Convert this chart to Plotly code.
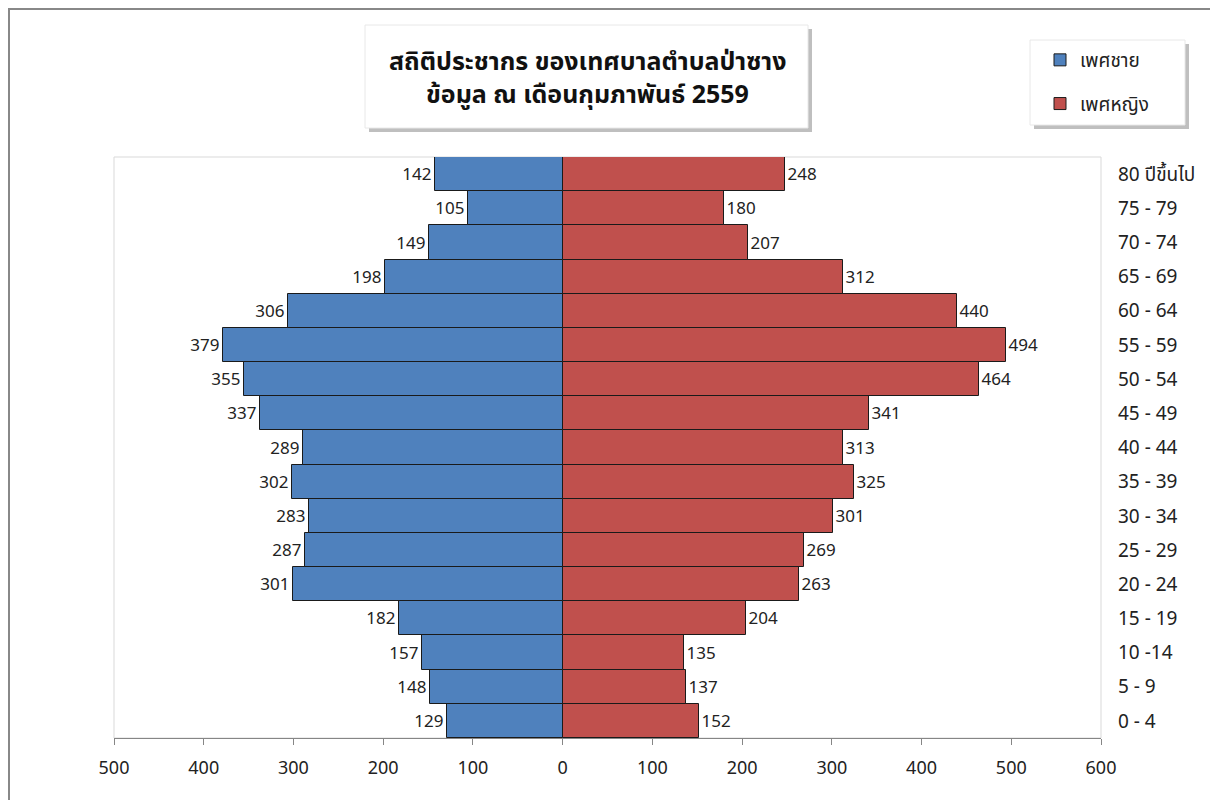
import plotly.graph_objects as go

age_groups = ["0 - 4", "5 - 9", "10 -14", "15 - 19", "20 - 24", "25 - 29", "30 - 34",
              "35 - 39", "40 - 44", "45 - 49", "50 - 54", "55 - 59", "60 - 64",
              "65 - 69", "70 - 74", "75 - 79", "80 ปีขึ้นไป"]
male = [129, 148, 157, 182, 301, 287, 283, 302, 289, 337, 355, 379, 306, 198, 149, 105, 142]
female = [152, 137, 135, 204, 263, 269, 301, 325, 313, 341, 464, 494, 440, 312, 207, 180, 248]
x_ticks = [-500, -400, -300, -200, -100, 0, 100, 200, 300, 400, 500, 600]

title_lines = ["สถิติประชากร ของเทศบาลตำบลป่าซาง", "ข้อมูล ณ เดือนกุมภาพันธ์ 2559"]
male_name = "เพศชาย"
female_name = "เพศหญิง"

FONT = "Noto Sans, Noto Sans Thai, Lato, sans-serif"
BLUE = "#4F81BD"
RED = "#C0504D"

OFF = 8  # page body margin: figure starts at screen (8, 8)
W, H = 1210, 792
L, T = 114 - OFF, 157 - OFF
R = W - (1101 - OFF)
B = H - (738 - OFF)
pw, ph = W - L - R, H - T - B


def px(xs):
    return (xs - OFF - L) / pw


def py(ys):
    return (H - B - (ys - OFF)) / ph


fig = go.Figure()
fig.add_trace(go.Bar(
    y=age_groups, x=[-v for v in male], orientation="h", name=male_name,
    legendgroup="m",
    marker=dict(color=BLUE, line=dict(color="#1a1a1a", width=1)),
    text=[str(v) for v in male], textposition="outside",
    textfont=dict(family=FONT, size=17, color="#222"), cliponaxis=False,
    hoverinfo="skip",
))
fig.add_trace(go.Bar(
    y=age_groups, x=female, orientation="h", name=female_name,
    legendgroup="f",
    marker=dict(color=RED, line=dict(color="#1a1a1a", width=1)),
    text=[str(v) for v in female], textposition="outside",
    textfont=dict(family=FONT, size=17, color="#222"), cliponaxis=False,
    hoverinfo="skip",
))

shapes = []
# outer chart border (left/top edges of the chart)
shapes.append(dict(type="line", xref="paper", yref="paper", x0=px(OFF), x1=px(OFF + W), y0=py(OFF + 1), y1=py(OFF + 1),
                   line=dict(color="#888888", width=2)))
shapes.append(dict(type="line", xref="paper", yref="paper", x0=px(OFF + 1), x1=px(OFF + 1), y0=py(OFF), y1=py(OFF + H),
                   line=dict(color="#888888", width=2)))
# plot area border (light)
shapes.append(dict(type="rect", xref="paper", yref="paper", x0=0, x1=1, y0=0, y1=1,
                   line=dict(color="#d9d9d9", width=1), layer="below"))
# title box shadow + box
shapes.append(dict(type="rect", xref="paper", yref="paper", x0=px(369), x1=px(812), y0=py(132), y1=py(29),
                   line=dict(width=0), fillcolor="rgba(0,0,0,0.25)"))
shapes.append(dict(type="rect", xref="paper", yref="paper", x0=px(365), x1=px(808), y0=py(128), y1=py(25),
                   line=dict(color="#e8e8e8", width=1), fillcolor="white"))
# legend box shadow + box
shapes.append(dict(type="rect", xref="paper", yref="paper", x0=px(1034), x1=px(1189), y0=py(129), y1=py(44),
                   line=dict(width=0), fillcolor="rgba(0,0,0,0.25)"))
shapes.append(dict(type="rect", xref="paper", yref="paper", x0=px(1030), x1=px(1185), y0=py(125), y1=py(40),
                   line=dict(color="#e8e8e8", width=1), fillcolor="white"))

annotations = [
    dict(xref="paper", yref="paper", x=px(587), y=py(60), text="<b>" + title_lines[0] + "</b>",
         showarrow=False, font=dict(family=FONT, size=25, color="#111"), xanchor="center", yanchor="middle"),
    dict(xref="paper", yref="paper", x=px(587), y=py(93), text="<b>" + title_lines[1] + "</b>",
         showarrow=False, font=dict(family=FONT, size=25, color="#111"), xanchor="center", yanchor="middle"),
]

fig.update_layout(
    width=W, height=H,
    margin=dict(l=L, r=R, t=T, b=B),
    paper_bgcolor="white", plot_bgcolor="white",
    barmode="overlay", bargap=0,
    font=dict(family=FONT, size=16, color="#222"),
    shapes=shapes, annotations=annotations,
    showlegend=True,
    legend=dict(x=px(1040), y=py(41), xanchor="left", yanchor="top",
                bgcolor="rgba(0,0,0,0)", borderwidth=0,
                font=dict(family=FONT, size=19, color="#222"),
                tracegroupgap=16, traceorder="grouped",
                itemwidth=30),
    xaxis=dict(range=[-500, 600], tickvals=x_ticks, ticktext=[str(abs(v)) for v in x_ticks],
               showgrid=False, zeroline=False, showline=True, linecolor="#868686", linewidth=1,
               ticks="outside", ticklen=6, tickcolor="#868686", ticklabelstandoff=7,
               tickfont=dict(family=FONT, size=18, color="#222")),
    yaxis=dict(categoryorder="array", categoryarray=age_groups, side="right",
               showgrid=False, zeroline=False, showline=False, ticks="",
               ticklabelstandoff=16,
               tickfont=dict(family=FONT, size=19, color="#222")),
)

fig.write_html("out.html")
